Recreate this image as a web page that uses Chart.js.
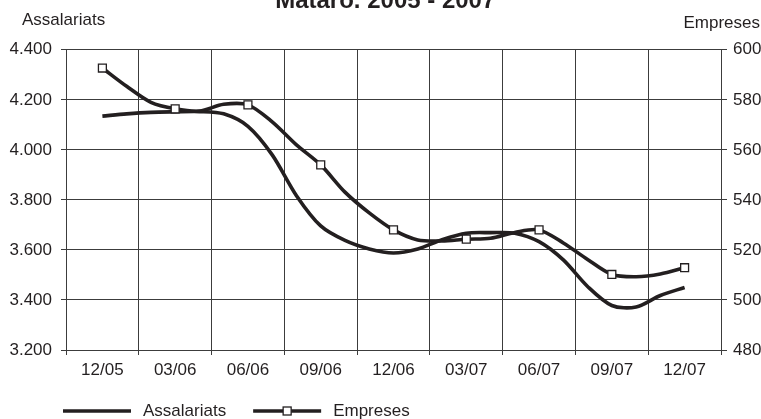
<!DOCTYPE html>
<html>
<head>
<meta charset="utf-8">
<script src="https://cdn.jsdelivr.net/npm/chart.js@4.4.1/dist/chart.umd.min.js"></script>
<style>
  html, body { margin: 0; padding: 0; background: #fff; }
  #wrap { width: 761px; height: 419px; }
</style>
</head>
<body>
<div id="wrap"><canvas id="chart"></canvas></div>
<script>
// etiquetes trimestrals de l'eix X (una cada 3 mesos)
const quarterLabels = ['12/05', '03/06', '06/06', '09/06', '12/06', '03/07', '06/07', '09/07', '12/07'];

// dades mensuals de 12/05 a 12/07 (25 mesos)
const assalariats = [4135, 4144, 4150, 4152, 4153, 4144, 4094, 3980, 3817, 3696, 3638, 3604, 3588,
                     3604, 3641, 3667, 3669, 3667, 3633, 3560, 3454, 3378, 3372, 3418, 3450];
const empreses = [592.7, 585.4, 579.0, 576.4, 575.5, 578.2, 578.0, 571.2, 562.0, 554.0, 543.1, 534.8, 528.0,
                  524.0, 523.6, 524.3, 524.7, 527.0, 528.0, 522.8, 516.2, 510.2, 509.3, 510.4, 512.9];

const chartTitle = 'Mataró. 2005 - 2007';
const leftTitle = 'Assalariats';
const rightTitle = 'Empreses';

const ink = '#231f20';
const gridColor = '#3c3c3c';
const fontFamily = "'Liberation Sans', Arial, Helvetica, sans-serif";

Chart.defaults.font.family = fontFamily;
Chart.defaults.font.size = 17;
Chart.defaults.color = ink;

const isCenter = v => v >= 0 && v % 3 === 0;
const thousands = v => String(v).replace(/\B(?=(\d{3})+(?!\d))/g, '.');

// titols dels eixos, horitzontals a dalt
const axisTitles = {
    id: 'axisTitles',
    afterDraw(chart) {
        const ctx = chart.ctx;
        ctx.save();
        ctx.fillStyle = ink;
        ctx.font = '17px ' + fontFamily;
        ctx.textBaseline = 'alphabetic';
        ctx.textAlign = 'left';
        ctx.fillText(leftTitle, 22, 24.5);
        ctx.textAlign = 'right';
        ctx.fillText(rightTitle, 760, 28);
        ctx.restore();
    }
};

// llegenda a sota, alineada a l'esquerra
const bottomLegend = {
    id: 'bottomLegend',
    afterDraw(chart) {
        const ctx = chart.ctx;
        const y = 411;
        let x = chart.chartArea.left - 3;
        ctx.save();
        ctx.font = '17px ' + fontFamily;
        ctx.textBaseline = 'middle';
        ctx.textAlign = 'left';
        chart.data.datasets.forEach(ds => {
            ctx.strokeStyle = ds.borderColor;
            ctx.lineWidth = ds.borderWidth;
            ctx.beginPath();
            ctx.moveTo(x, y);
            ctx.lineTo(x + 68, y);
            ctx.stroke();
            if (ds.pointStyle === 'rect') {
                ctx.fillStyle = '#fff';
                ctx.lineWidth = 1.3;
                ctx.fillRect(x + 30, y - 4, 8, 8);
                ctx.strokeRect(x + 30, y - 4, 8, 8);
            }
            ctx.fillStyle = ink;
            ctx.fillText(ds.label, x + 80, y);
            x += 80 + ctx.measureText(ds.label).width + 27;
        });
        ctx.restore();
    }
};

const ctx = document.getElementById('chart').getContext('2d');
const myChart = new Chart(ctx, {
    type: 'line',
    data: {
        datasets: [{
            label: 'Assalariats',
            data: assalariats.map((v, i) => ({ x: i, y: v })),
            yAxisID: 'y',
            borderColor: ink,
            borderWidth: 3.6,
            pointRadius: 0,
            tension: 0.3,
            order: 1
        }, {
            label: 'Empreses',
            data: empreses.map((v, i) => ({ x: i, y: v })),
            yAxisID: 'y1',
            borderColor: ink,
            borderWidth: 3.6,
            tension: 0.3,
            pointStyle: 'rect',
            pointRadius: c => c.dataIndex % 3 === 0 ? 5.6 : 0,
            pointBackgroundColor: '#fff',
            pointBorderColor: ink,
            pointBorderWidth: 1.3,
            order: 0
        }]
    },
    options: {
        responsive: true,
        maintainAspectRatio: false,
        animation: false,
        events: [],
        layout: { padding: { left: 9.5, right: 0, top: 0, bottom: 33.6 } },
        plugins: {
            legend: { display: false },
            tooltip: { enabled: false },
            title: {
                display: true,
                text: chartTitle,
                color: ink,
                font: { size: 24, weight: 'bold' },
                padding: { top: -13, bottom: 34 }
            }
        },
        scales: {
            x: {
                type: 'linear',
                min: -1.5,
                max: 25.5,
                afterBuildTicks: axis => {
                    const t = [];
                    for (let v = -1.5; v <= 25.5; v += 1.5) t.push({ value: v });
                    axis.ticks = t;
                },
                grid: {
                    color: c => (c.tick && isCenter(c.tick.value)) ? 'rgba(0,0,0,0)' : gridColor,
                    tickColor: c => (c.tick && isCenter(c.tick.value)) ? 'rgba(0,0,0,0)' : gridColor,
                    tickLength: 5
                },
                border: { color: gridColor },
                ticks: {
                    autoSkip: false,
                    maxRotation: 0,
                    padding: 5,
                    callback: v => isCenter(v) ? quarterLabels[v / 3] : ''
                }
            },
            y: {
                position: 'left',
                min: 3200,
                max: 4400,
                afterFit: s => { s.width = 56.5; },
                grid: { color: gridColor, tickLength: 5 },
                border: { color: gridColor },
                ticks: { stepSize: 200, padding: 9, callback: v => thousands(v) }
            },
            y1: {
                position: 'right',
                min: 480,
                max: 600,
                afterFit: s => { s.width = 40; },
                grid: { drawOnChartArea: false, color: gridColor, tickLength: 6 },
                border: { color: gridColor },
                ticks: { stepSize: 20, padding: 6 }
            }
        }
    },
    plugins: [axisTitles, bottomLegend]
});
</script>
</body>
</html>
